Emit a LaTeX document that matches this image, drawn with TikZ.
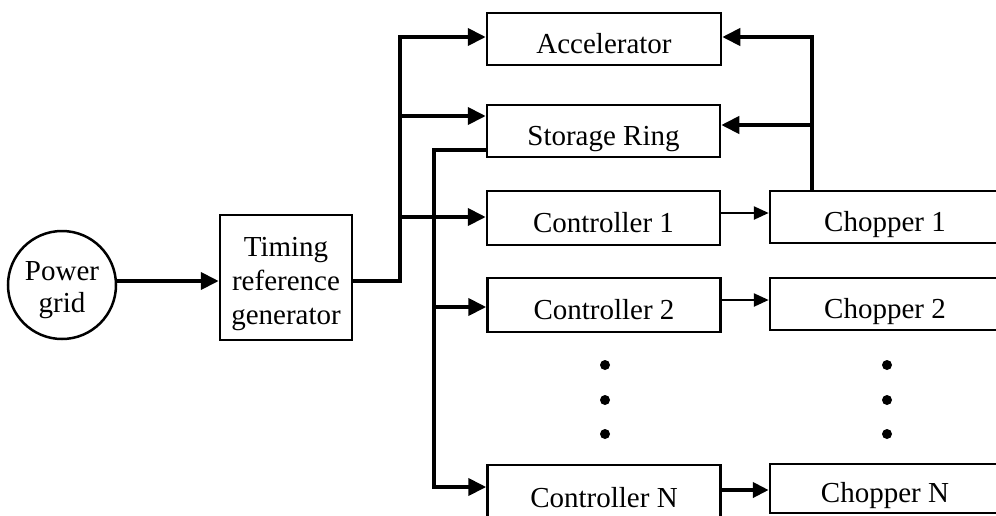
\documentclass[tikz,border=0pt]{standalone}
\usepackage{fontspec}
\setmainfont{Liberation Serif}
\usetikzlibrary{arrows.meta}
\begin{document}
\begin{tikzpicture}[x=1pt,y=-1pt,
  box/.style={draw,line width=2.5pt,rectangle,inner sep=0pt,font=\fontsize{29}{35}\selectfont,
              text height=28pt,text depth=0pt},
  frame/.style={draw,line width=2.5pt,rectangle,inner sep=0pt},
  label/.style={inner sep=0pt,align=center,font=\fontsize{29}{34}\selectfont},
  busline/.style={line width=4pt},
  bigtip/.style={-{Triangle[length=18pt,width=17pt]}},
  thinarrow/.style={line width=2.5pt,-{Triangle[length=15pt,width=13pt]}}]
\useasboundingbox (0,0) rectangle (996,515);
\fill[white] (0,0) rectangle (996,515);
\clip (0,0) rectangle (996,515);

% nodes
\node[draw,circle,line width=2.5pt,minimum size=108pt,inner sep=0pt] (pg) at (62,285) {};
\node[label,font=\fontsize{29}{32}\selectfont] (pgt) at ([yshift=-5pt]pg.center) {Power\\grid};
\node[frame,minimum width=132pt,minimum height=125pt] (trg) at (286,277.5) {};
\node[label] (trgt) at ([yshift=-7pt]trg.center) {Timing\\reference\\generator};
\node[box,minimum width=234pt,minimum height=52pt] (acc) at (604,39) {Accelerator};
\node[box,minimum width=233pt,minimum height=52pt] (sr) at (603.5,131) {Storage Ring};
\node[box,minimum width=233pt,minimum height=54pt] (c1) at (603.5,218) {Controller 1};
\node[box,minimum width=233pt,minimum height=54pt] (c2) at (604,305) {Controller 2};
\node[box,minimum width=233pt,minimum height=56pt] (cN) at (604,493) {Controller N};
\node[box,minimum width=230pt,minimum height=52pt] (ch1) at (885,217) {Chopper 1};
\node[box,minimum width=230pt,minimum height=52pt] (ch2) at (885,304) {Chopper 2};
\node[box,minimum width=230pt,minimum height=49pt] (chN) at (885,488.5) {Chopper N};

% power grid -> timing reference generator
\coordinate (pa) at (100,281);
\draw[busline,bigtip] (pg.east |- pa) -- (pa -| trg.west);

% first bus
\coordinate (b1) at (400,281);
\coordinate (ja) at (400,37);
\coordinate (js) at (400,116);
\coordinate (jc) at (400,217);
\draw[busline,bigtip] (trg.east |- b1) -- (b1) -- (ja) -- (ja -| acc.west);
\draw[busline,bigtip] (js) -- (js -| sr.west);
\draw[busline,bigtip] (jc) -- (jc -| c1.west);

% second bus from storage ring
\coordinate (b2) at (434,150);
\coordinate (b3) at (434,487);
\coordinate (j2) at (434,307);
\draw[busline,bigtip] (sr.west |- b2) -- (b2) -- (b3) -- (b3 -| cN.west);
\draw[busline,bigtip] (j2) -- (j2 -| c2.west);

% controllers -> choppers
\coordinate (a1) at (720,213);
\coordinate (a2) at (720,300);
\coordinate (aN) at (720,490);
\draw[thinarrow] (c1.east |- a1) -- (a1 -| ch1.west);
\draw[thinarrow] (c2.east |- a2) -- (a2 -| ch2.west);
\draw[busline,-{Triangle[length=16pt,width=15pt]}] (cN.east |- aN) -- (aN -| chN.west);

% feedback from chopper 1
\coordinate (ft) at (812,37);
\coordinate (fm) at (812,125);
\draw[busline,bigtip] (ch1.north -| ft) -- (ft) -- (ft -| acc.east);
\draw[busline,bigtip] (fm) -- (fm -| sr.east);

% dots
\foreach \yy in {365,400,434} {
  \fill (605,\yy) circle (5);
  \fill (887,\yy) circle (5);
}
\end{tikzpicture}
\end{document}
